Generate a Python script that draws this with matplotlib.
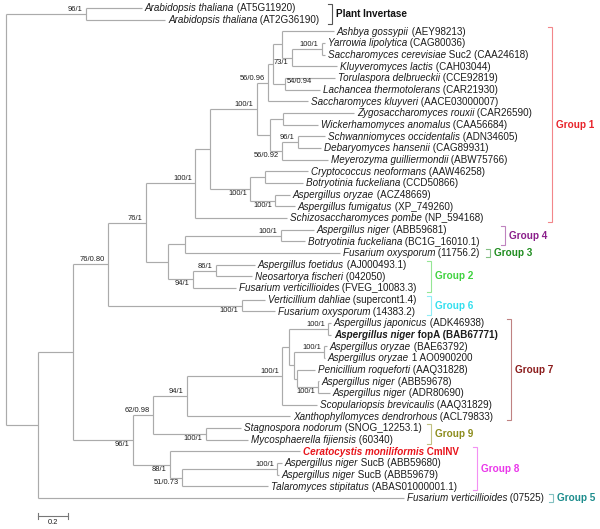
import matplotlib
matplotlib.use("Agg")
import matplotlib.pyplot as plt
from matplotlib.transforms import offset_copy
from matplotlib.collections import LineCollection
from matplotlib.colors import to_rgb

# ---------------- data ----------------
leaf_species = [
    "Arabidopsis thaliana", "Arabidopsis thaliana", "Ashbya gossypii", "Yarrowia lipolytica",
    "Saccharomyces cerevisiae", "Kluyveromyces lactis", "Torulaspora delbrueckii",
    "Lachancea thermotolerans", "Saccharomyces kluyveri", "Zygosaccharomyces rouxii",
    "Wickerhamomyces anomalus", "Schwanniomyces occidentalis", "Debaryomyces hansenii",
    "Meyerozyma guilliermondii", "Cryptococcus neoformans", "Botryotinia fuckeliana",
    "Aspergillus oryzae", "Aspergillus fumigatus", "Schizosaccharomyces pombe",
    "Aspergillus niger", "Botryotinia fuckeliana", "Fusarium oxysporum",
    "Aspergillus foetidus", "Neosartorya fischeri", "Fusarium verticillioides",
    "Verticillium dahliae", "Fusarium oxysporum", "Aspergillus japonicus",
    "Aspergillus niger", "Aspergillus oryzae", "Aspergillus oryzae", "Penicillium roqueforti",
    "Aspergillus niger", "Aspergillus niger", "Scopulariopsis brevicaulis",
    "Xanthophyllomyces dendrorhous", "Stagnospora nodorum", "Mycosphaerella fijiensis",
    "Ceratocystis moniliformis", "Aspergillus niger", "Aspergillus niger",
    "Talaromyces stipitatus", "Fusarium verticillioides",
]
leaf_suffix = [
    "(AT5G11920)", "(AT2G36190)", "(AEY98213)", "(CAG80036)", "Suc2 (CAA24618)",
    "(CAH03044)", "(CCE92819)", "(CAR21930)", "(AACE03000007)", "(CAR26590)",
    "(CAA56684)", "(ADN34605)", "(CAG89931)", "(ABW75766)", "(AAW46258)", "(CCD50866)",
    "(ACZ48669)", "(XP_749260)", "(NP_594168)", "(ABB59681)", "(BC1G_16010.1)",
    "(11756.2)", "(AJ000493.1)", "(042050)", "(FVEG_10083.3)", "(supercont1.4)",
    "(14383.2)", "(ADK46938)", "fopA (BAB67771)", "(BAE63792)", "1 AO0900200",
    "(AAQ31828)", "(ABB59678)", "(ADR80690)", "(AAQ31829)", "(ACL79833)",
    "(SNOG_12253.1)", "(60340)", "CmINV", "SucB (ABB59680)", "SucB (ABB59679)",
    "(ABAS01000001.1)", "(07525)",
]
highlight_bold = [28, 38]
highlight_red = [38]

# tree topology (Newick pieces; leaves = indices above, internal labels = support values)
yeast_a = "(2:0.347,((3:0.02,4:0.02)100/1:0.2,5:0.3)73/1:0.067)"
yeast_b = f"(({yeast_a}:0.06,(6:0.333,7:0.233)54/0.94:0.08):0.033,8:0.267)56/0.96"
yeast_c = "((9:0.473,10:0.233):0.087,((11:0.18,12:0.153)96/1:0.107,13:0.307)56/0.92:0.08)"
yeast = f"({yeast_b}:0.073,{yeast_c}:0.087)100/1"
filament = "((14:0.287,15:0.253):0.1,(16:0.1,17:0.133)100/1:0.167)100/1"
group1 = f"(({yeast}:0.313,{filament}:0.267):0.1,18:0.613)100/1"
group234 = ("(((19:0.22,20:0.16)100/1:0.64,21:1.033):0.113,"
            "((22:0.26,23:0.24)86/1:0.153,24:0.287)94/1:0.167)")
upper_clade = f"(({group1}:0.327,{group234}:0.147)76/1:0.253,(25:0.153,26:0.22)100/1:0.893)76/0.80"
group7_core = ("((27:0.02,28:0.02)100/1:0.26,((29:0.02,30:0.007)100/1:0.2,"
               "(31:0.12,(32:0.007,33:0.08)100/1:0.14):0.02):0.033)")
group7 = f"(({group7_core}:0.047,34:0.233)100/1:0.633,35:0.687)94/1"
group79 = f"({group7}:0.227,(36:0.233,37:0.28)100/1:0.353)62/0.98"
group8 = "(38:0.867,((39:0.033,40:0.013)100/1:0.633,41:0.573)51/0.73:0.08)88/1"
lower_clade = f"({group79}:0.133,{group8}:0.247)96/1"
fungi = f"(({upper_clade}:0.233,{lower_clade}:0.4):0.233,42:2.44)"
newick = f"((0:0.373,1:0.527)96/1:0.533,{fungi}:0.213);"

group_names = ["Plant Invertase", "Group 1", "Group 4", "Group 3", "Group 2",
               "Group 6", "Group 7", "Group 9", "Group 8", "Group 5"]
group_first = [0, 2, 19, 21, 22, 25, 27, 36, 38, 42]
group_last = [1, 18, 20, 21, 24, 26, 35, 37, 41, 42]

scale_length = 0.2

# ---------------- style / layout ----------------
group_colors = ["#111111", "#e8232a", "#8b1e8b", "#1f8c1f", "#3fd23f",
                "#33dfee", "#8b1c1c", "#8c8c1c", "#ea36ea", "#1c8c8c"]
bracket_x_px = [332, 552, 505, 490, 431, 431, 511, 431, 477, 553]

W, H = 600, 529
PX_PER_UNIT = 150.0
ROOT_PX = 6.0
ROW0, ROWH = 8.0, 11.67
LINE_COLOR = "#ababab"
TEXT_COLOR = "#1c1c1c"
LEAF_FS = 7.1
SUP_FS = 5.4
GROUP_FS = 7.2
right_side_labels = {"54/0.94"}

plt.rcParams["font.family"] = ["Liberation Sans", "DejaVu Sans"]

# ---------------- parse tree ----------------
def parse(s):
    s = "".join(s.split())
    pos = 0

    def node():
        nonlocal pos
        children = []
        if s[pos] == "(":
            pos += 1
            children.append(node())
            while s[pos] == ",":
                pos += 1
                children.append(node())
            pos += 1  # ')'
        start = pos
        while pos < len(s) and s[pos] not in ":,();":
            pos += 1
        label = s[start:pos]
        bl = 0.0
        if pos < len(s) and s[pos] == ":":
            pos += 1
            start = pos
            while s[pos] not in ",();":
                pos += 1
            bl = float(s[start:pos])
        return {"label": label, "bl": bl, "children": children}

    return node()


tree = parse(newick)


def layout(n, x0):
    n["x"] = x0 + n["bl"]
    if n["children"]:
        for c in n["children"]:
            layout(c, n["x"])
        n["y"] = (n["children"][0]["y"] + n["children"][-1]["y"]) / 2.0
    else:
        n["y"] = int(n["label"])


tree["bl"] = 0.0
layout(tree, 0.0)

# ---------------- figure ----------------
fig = plt.figure(figsize=(W / 100, H / 100), dpi=100)
ax = fig.add_axes([0, 0, 1, 1])
ax.set_xlim(-ROOT_PX / PX_PER_UNIT, (W - ROOT_PX) / PX_PER_UNIT)
ax.set_ylim((H - ROW0) / ROWH, -ROW0 / ROWH)
ax.axis("off")

renderer = fig.canvas.get_renderer()


def off(dx, dy):
    return offset_copy(ax.transData, fig=fig, x=dx, y=dy, units="dots")


segs = []
internal = []


def collect(n, parent=None, idx=0):
    if parent is not None:
        segs.append([(parent["x"], n["y"]), (n["x"], n["y"])])
    if n["children"]:
        ys = [c["y"] for c in n["children"]]
        segs.append([(n["x"], min(ys)), (n["x"], max(ys))])
        if n["label"]:
            internal.append((n, idx == 0))
        for i, c in enumerate(n["children"]):
            collect(c, n, i)


collect(tree)
ax.add_collection(LineCollection(segs, colors=LINE_COLOR, linewidths=0.85))

# support values
for n, upper in internal:
    lab = n["label"]
    if lab in right_side_labels:
        ax.text(n["x"], n["y"], lab, fontsize=SUP_FS, color=TEXT_COLOR,
                ha="left", va="center", transform=off(2, 2))
    elif upper:
        ax.text(n["x"], n["y"], lab, fontsize=SUP_FS, color=TEXT_COLOR,
                ha="right", va="bottom", transform=off(-3, 1))
    else:
        ax.text(n["x"], n["y"], lab, fontsize=SUP_FS, color=TEXT_COLOR,
                ha="right", va="top", transform=off(-3, -1))


def leaves(n):
    if not n["children"]:
        yield n
    for c in n["children"]:
        yield from leaves(c)


base = -0.34 * LEAF_FS * 100 / 72
for lf in leaves(tree):
    i = int(lf["label"])
    bold = i in highlight_bold
    col = "#e8141c" if i in highlight_red else TEXT_COLOR
    w = "bold" if bold else "normal"
    t1 = ax.text(lf["x"], i, leaf_species[i], fontsize=LEAF_FS, style="italic",
                 weight=w, color=col, ha="left", va="baseline", transform=off(3, base))
    wd = t1.get_window_extent(renderer).width
    ax.text(lf["x"], i, " " + leaf_suffix[i], fontsize=LEAF_FS, weight=w, color=col,
            ha="left", va="baseline", transform=off(3 + wd, base))


def lighten(c, f):
    r, g, b = to_rgb(c)
    return (r + (1 - r) * f, g + (1 - g) * f, b + (1 - b) * f)


for name, a, b, c, bx in zip(group_names, group_first, group_last, group_colors, bracket_x_px):
    x = (bx - ROOT_PX) / PX_PER_UNIT
    y0 = a - 4 / ROWH
    y1 = b + 4 / ROWH
    tick = 4 / PX_PER_UNIT
    lc = lighten(c, 0.45) if name != "Plant Invertase" else "#555555"
    ax.plot([x - tick, x, x, x - tick], [y0, y0, y1, y1], color=lc, lw=0.8,
            solid_joinstyle="miter")
    ax.text(x, (a + b) / 2.0, name, fontsize=GROUP_FS, weight="bold", color=c,
            ha="left", va="center", transform=off(4, 0))

# scale bar
sx0 = (38 - ROOT_PX) / PX_PER_UNIT
sy = (516 - ROW0) / ROWH
ax.plot([sx0, sx0 + scale_length], [sy, sy], color="#777777", lw=0.8)
for xx in (sx0, sx0 + scale_length):
    ax.plot([xx, xx], [sy - 3 / ROWH, sy + 3 / ROWH], color="#777777", lw=0.8)
ax.text(sx0 + scale_length / 2, sy, f"{scale_length:g}", fontsize=SUP_FS,
        color=TEXT_COLOR, ha="center", va="top", transform=off(0, -3))

fig.savefig("out.png", dpi=100, facecolor="white")
